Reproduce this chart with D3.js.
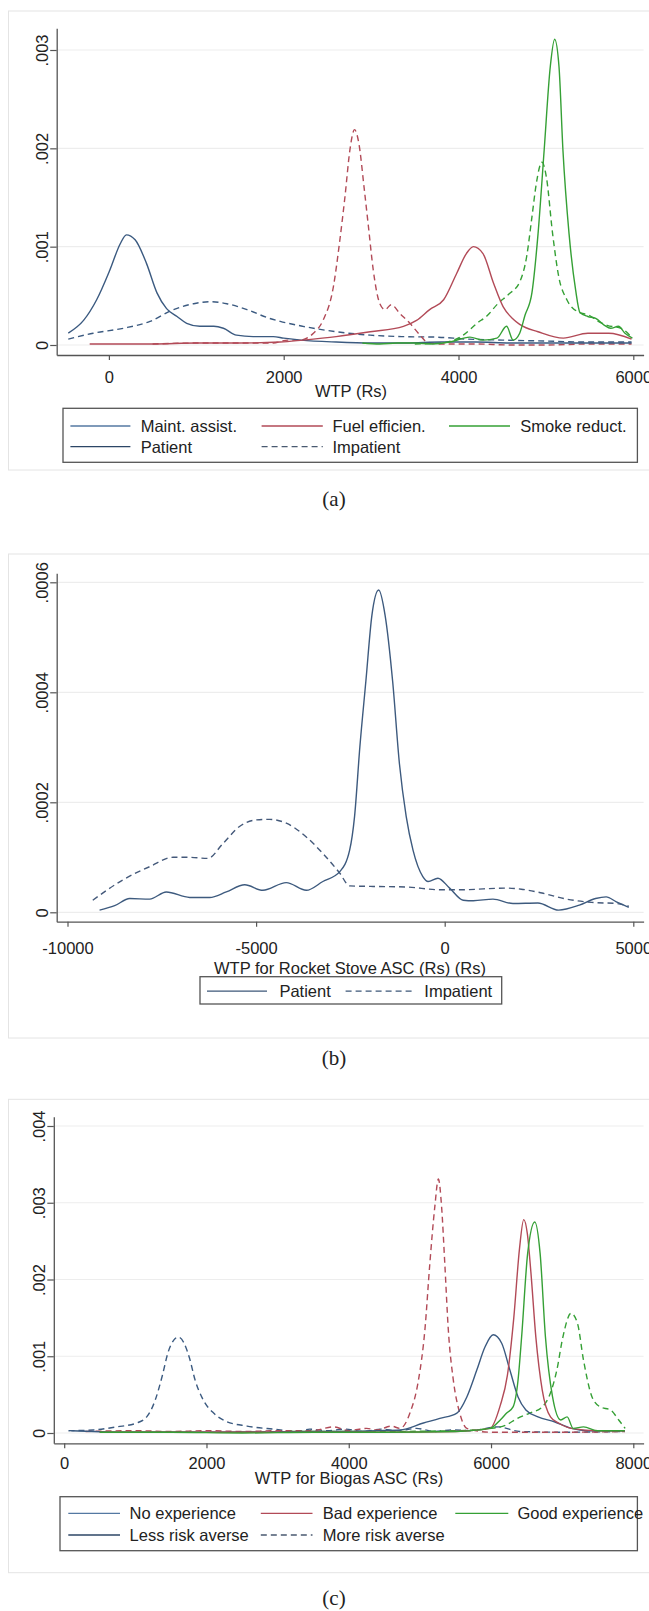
<!DOCTYPE html>
<html>
<head>
<meta charset="utf-8">
<script src="https://cdnjs.cloudflare.com/ajax/libs/d3/7.8.5/d3.min.js"></script>
<style>
  body { margin: 0; background: #fff; }
  svg text { font-family: "Liberation Sans", Arial, sans-serif; fill: #222; }
</style>
</head>
<body>
<div id="chart"></div>
<script>
// ---------- data: panel (a), WTP by attribute ----------
let ticksXA = [0, 2000, 4000, 6000];
let ticksYA = [0, 0.001, 0.002, 0.003];
let legendA = ["Maint. assist.", "Fuel efficien.", "Smoke reduct.", "Patient", "Impatient"];

let maintPatient = [[-465,0.00012],[-290,0.00025],[-140,0.00046],[10,0.00076],[130,0.00103],[200,0.00112],[300,0.00107],[430,0.00083],[550,0.00053],[660,0.00037],[780,0.00029],[890,0.00022],[1040,0.00019],[1200,0.00019],[1310,0.00017],[1460,0.0001],[1650,0.000085],[1880,0.000085],[2000,0.00007],[2200,0.00005],[2600,0.00003],[3000,0.00002],[3400,0.00002],[3800,0.00003],[4200,0.00003],[4600,0.00002],[5000,0.00002],[5500,0.00002],[5980,0.00002]];
let maintImpatient = [[-465,0.00006],[-180,0.00012],[165,0.00017],[470,0.00024],[740,0.00036],[970,0.00042],[1160,0.00044],[1350,0.00042],[1580,0.00036],[1840,0.00027],[1960,0.00024],[2220,0.00019],[2600,0.000135],[2990,0.0001],[3370,0.000085],[3750,0.00008],[4100,0.00006],[4500,0.00005],[5000,0.00004],[5500,0.00003],[5980,0.00003]];
let fuelPatient = [[-220,0.00001],[200,0.00001],[500,0.00001],[1000,0.00002],[1500,0.00002],[1960,0.00003],[2220,0.00005],[2600,0.000085],[2990,0.000135],[3370,0.00019],[3520,0.00025],[3670,0.00036],[3830,0.00046],[3980,0.00073],[4090,0.00093],[4170,0.001],[4280,0.00093],[4400,0.00063],[4510,0.00039],[4630,0.00026],[4700,0.00021],[4910,0.000135],[5200,0.00007],[5480,0.00012],[5720,0.00012],[5980,0.00006]];
let fuelImpatient = [[500,0.00001],[1000,0.00002],[1500,0.00002],[1880,0.00002],[2050,0.00005],[2190,0.00005],[2340,0.00012],[2450,0.00025],[2570,0.0006],[2640,0.00105],[2700,0.0015],[2760,0.002],[2810,0.00219],[2860,0.00205],[2920,0.0016],[2970,0.0012],[3025,0.00076],[3100,0.00042],[3160,0.00036],[3230,0.00041],[3330,0.00032],[3445,0.00022],[3560,0.0001],[3640,0.00003],[3800,0.00001],[4200,0.00001],[4600,0],[5000,0],[5500,0.00001],[5980,0.00001]];
let smokePatient = [[2900,0.00002],[3100,0.00001],[3300,0.00002],[3500,0.00002],[3700,0.00001],[3900,0.00003],[4130,0.00008],[4280,0.00005],[4440,0.00007],[4550,0.00019],[4625,0.00005],[4700,0.00012],[4760,0.0003],[4840,0.00053],[4910,0.00113],[4980,0.00198],[5050,0.00283],[5100,0.00311],[5150,0.00283],[5195,0.00198],[5265,0.00113],[5340,0.00056],[5390,0.00033],[5480,0.00029],[5570,0.00027],[5670,0.0002],[5740,0.00017],[5830,0.00019],[5905,0.00012],[5990,0.00007]];
let smokeImpatient = [[3500,0.00001],[3800,0.00002],[4055,0.0001],[4210,0.00022],[4330,0.0003],[4450,0.00042],[4580,0.00052],[4700,0.00064],[4780,0.0009],[4840,0.0013],[4890,0.00164],[4955,0.00186],[5005,0.00171],[5077,0.00113],[5148,0.00069],[5240,0.00046],[5360,0.00034],[5500,0.0003],[5600,0.00024],[5700,0.0002],[5860,0.00017],[5990,0.00007]];

// ---------- data: panel (b), rocket stove ASC ----------
let ticksXB = [-10000, -5000, 0, 5000];
let ticksYB = [0, 0.0002, 0.0004, 0.0006];
let legendB = ["Patient", "Impatient"];

let rocketPatient = [[-9150,0.000004],[-8750,0.000012],[-8350,0.000025],[-7820,0.000024],[-7380,0.000037],[-6760,0.000027],[-6230,0.000027],[-5790,0.000037],[-5300,0.00005],[-4820,0.00004],[-4200,0.000054],[-3670,0.00004],[-3230,0.000056],[-2780,0.000074],[-2520,0.000113],[-2390,0.000174],[-2250,0.0003],[-2090,0.00042],[-1930,0.00054],[-1750,0.000586],[-1580,0.00054],[-1380,0.00042],[-1200,0.00027],[-1020,0.000174],[-840,0.000113],[-580,0.000065],[-440,0.000056],[-180,0.000062],[130,0.000044],[490,0.000022],[760,0.000021],[1280,0.000024],[1810,0.000016],[2470,0.000017],[3020,0.000004],[3570,0.000013],[4000,0.000025],[4280,0.000028],[4550,0.000019],[4880,0.000009]];
let rocketImpatient = [[-9330,0.000022],[-8530,0.000059],[-7820,0.000083],[-7200,0.0001],[-6760,0.0001],[-6280,0.000098],[-5880,0.000125],[-5440,0.000156],[-4990,0.000168],[-4640,0.000169],[-4200,0.000162],[-3670,0.000137],[-3230,0.000107],[-2780,0.000071],[-2520,0.000048],[-1900,0.000047],[-1020,0.000046],[-130,0.000041],[400,0.000041],[1630,0.000044],[2030,0.000042],[2580,0.000035],[3230,0.000024],[3900,0.000018],[4550,0.000016],[4880,0.000011]];

// ---------- data: panel (c), biogas ASC ----------
let ticksXC = [0, 2000, 4000, 6000, 8000];
let ticksYC = [0, 0.001, 0.002, 0.003, 0.004];
let legendC = ["No experience", "Bad experience", "Good experience", "Less risk averse", "More risk averse"];

let noExpLess = [[100,0.00003],[400,0.00002],[800,0.00001],[1500,0.00001],[2500,0.00001],[3500,0.00002],[4000,0.00002],[4400,0.00003],[4720,0.00004],[5050,0.00013],[5280,0.00019],[5520,0.00026],[5660,0.00047],[5800,0.00082],[5915,0.00112],[6030,0.00128],[6150,0.00117],[6265,0.00082],[6380,0.00047],[6490,0.0003],[6660,0.00021],[6890,0.000147],[7130,0.00006],[7360,0.00003],[7880,0.00003]];
let noExpMore = [[60,0.00003],[410,0.00004],[740,0.00008],[1020,0.00013],[1160,0.00021],[1280,0.00043],[1380,0.00075],[1460,0.00105],[1540,0.00121],[1605,0.00125],[1680,0.00118],[1760,0.00098],[1840,0.00069],[1955,0.00043],[2100,0.00026],[2280,0.00015],[2570,0.00009],[2940,0.00005],[3300,0.00002],[3450,0.00005],[3700,0.00003],[3950,0.00005],[4200,0.00002],[4450,0.00005],[4700,0.00003],[4950,0.00006],[5200,0.00002],[5450,0.00004],[5700,0.00003],[6100,0.00008],[6400,0.00002],[7000,0.00001],[7880,0.00002]];
let badLess = [[500,0.00001],[1500,0.00001],[2500,0.00001],[3500,0.00001],[4500,0.00001],[5500,0.00002],[5985,0.00006],[6130,0.00036],[6230,0.00075],[6320,0.0015],[6400,0.0024],[6460,0.00278],[6510,0.0026],[6560,0.0021],[6630,0.00125],[6720,0.00056],[6836,0.00021],[6950,0.00013],[7130,0.00006],[7500,0.00003],[7880,0.00003]];
let badMore = [[300,0.00002],[1000,0.00003],[1500,0.00002],[2000,0.00003],[2500,0.00002],[3000,0.00003],[3500,0.00003],[3780,0.00008],[4000,0.00003],[4250,0.00006],[4400,0.00004],[4600,0.00009],[4720,0.00006],[4860,0.00026],[4980,0.00069],[5070,0.00134],[5140,0.00221],[5210,0.00295],[5260,0.00331],[5305,0.00295],[5350,0.00221],[5400,0.00134],[5470,0.00069],[5560,0.00026],[5660,0.00006],[6000,0.00001],[6300,0.00001],[7000,0.00001],[7880,0.00002]];
let goodLess = [[500,0.00001],[1500,0.00001],[2500,0],[3500,0.00001],[4500,0.00001],[5500,0.00002],[5985,0.00006],[6130,0.00017],[6220,0.00026],[6310,0.00034],[6380,0.00069],[6430,0.00125],[6515,0.00234],[6615,0.00275],[6690,0.00234],[6765,0.00125],[6865,0.00047],[6980,0.00017],[7070,0.00021],[7155,0.00006],[7300,0.00008],[7500,0.00003],[7880,0.00003]];
let goodMore = [[500,0.00001],[2000,0.00001],[3500,0.00002],[4500,0.00002],[5500,0.00003],[6000,0.00006],[6200,0.0001],[6370,0.00019],[6545,0.00026],[6720,0.00034],[6835,0.00052],[6925,0.00082],[7010,0.00125],[7125,0.00156],[7215,0.00143],[7300,0.00095],[7420,0.00047],[7535,0.00034],[7680,0.0003],[7795,0.00017],[7885,0.00006]];

// ---------- drawing ----------
let w = 649, h = 1611;
let blue = "#3b5a80", red = "#b24a57", green = "#35a035";
let blueKey = "#5478a2", navyKey = "#2c4666", dashKey = "#4a5a70";

let svg = d3.select("#chart").append("svg")
  .attr("width", w)
  .attr("height", h);

let fmtY = (dec) => (d => d === 0 ? "0" : d3.format("." + dec + "f")(d).replace(/^0/, ""));

function drawPanel(p) {
  let g = svg.append("g");

  // light outer frame (graph region)
  g.append("rect")
    .attr("x", 8.5).attr("y", p.frameTop)
    .attr("width", 700).attr("height", p.frameBottom - p.frameTop)
    .attr("fill", "none").attr("stroke", "#e4e4e4");

  let x = d3.scaleLinear().domain(p.xAnchor).range(p.xAnchorPx);
  x.domain([x.invert(p.left), x.invert(p.right)]).range([p.left, p.right]);
  let y = d3.scaleLinear().domain(p.yAnchor).range(p.yAnchorPx);
  y.domain([y.invert(p.bottom), y.invert(p.top)]).range([p.bottom, p.top]);

  g.selectAll("line.grid").data(p.yTicks).join("line")
    .attr("class", "grid")
    .attr("x1", p.left).attr("x2", p.right)
    .attr("y1", d => y(d)).attr("y2", d => y(d))
    .attr("stroke", "#ededed").attr("stroke-width", 1.2);

  let line = d3.line()
    .x(d => x(d[0]))
    .y(d => y(d[1]))
    .curve(d3.curveMonotoneX);

  p.series.forEach(s => {
    g.append("path")
      .attr("d", line(s.data))
      .attr("fill", "none")
      .attr("stroke", s.color)
      .attr("stroke-width", 1.4)
      .attr("stroke-dasharray", s.dash ? "6,4" : null);
  });

  let xAxis = g.append("g")
    .attr("transform", `translate(0,${p.bottom})`)
    .call(d3.axisBottom(x).tickValues(p.xTicks).tickFormat(d => String(d))
      .tickSize(5).tickSizeOuter(0).tickPadding(p.xPad));

  let yAxis = g.append("g")
    .attr("transform", `translate(${p.left},0)`)
    .call(d3.axisLeft(y).tickValues(p.yTicks).tickFormat(fmtY(p.yDec))
      .tickSize(6.5).tickSizeOuter(0));

  [xAxis, yAxis].forEach(a => {
    a.attr("font-family", null).attr("font-size", null);
    a.select(".domain").attr("stroke", "#555").attr("stroke-width", 1.3);
    a.selectAll(".tick line").attr("stroke", "#555").attr("stroke-width", 1.2);
    a.selectAll(".tick text").style("font-size", "16.5px").attr("fill", "#222");
  });

  yAxis.selectAll(".tick text")
    .attr("x", 0).attr("dy", 0)
    .attr("text-anchor", "middle")
    .attr("transform", "translate(-9,0) rotate(-90)");

  g.append("text")
    .attr("x", p.titleX).attr("y", p.bottom + p.titleOff + 6)
    .attr("text-anchor", "middle")
    .style("font-size", "16.5px")
    .text(p.title);

  // legend
  let L = p.legend;
  g.append("rect")
    .attr("x", L.x0).attr("y", L.y0)
    .attr("width", L.x1 - L.x0).attr("height", L.y1 - L.y0)
    .attr("fill", "#fff").attr("stroke", "#555").attr("stroke-width", 1.3);
  L.items.forEach((it, i) => {
    g.append("line")
      .attr("x1", it.lx[0]).attr("x2", it.lx[1])
      .attr("y1", it.ly).attr("y2", it.ly)
      .attr("stroke", it.color).attr("stroke-width", 1.3)
      .attr("stroke-dasharray", it.dash ? "6,4" : null);
    g.append("text")
      .attr("x", it.tx).attr("y", it.ly + 6)
      .style("font-size", "16.5px")
      .text(L.labels[i]);
  });

  svg.append("text")
    .attr("x", 334).attr("y", p.captionY + 7)
    .attr("text-anchor", "middle")
    .style("font-family", "'Liberation Serif', 'DejaVu Serif', serif")
    .style("font-size", "21px")
    .text(p.caption);
}

drawPanel({
  frameTop: 11, frameBottom: 470,
  left: 56.7, right: 643.6, top: 28.3, bottom: 355,
  xAnchor: [0, 6000], xAnchorPx: [108.9, 633.3],
  yAnchor: [0, 0.003], yAnchorPx: [345, 50],
  xTicks: ticksXA, yTicks: ticksYA, yDec: 3, xPad: 11,
  title: "WTP (Rs)", titleX: 351, titleOff: 35.7,
  series: [
    { data: maintImpatient, color: blue, dash: true },
    { data: fuelImpatient, color: red, dash: true },
    { data: smokeImpatient, color: green, dash: true },
    { data: maintPatient, color: blue },
    { data: fuelPatient, color: red },
    { data: smokePatient, color: green }
  ],
  legend: {
    x0: 63, y0: 408.3, x1: 637.4, y1: 462.3, labels: legendA,
    items: [
      { lx: [70.4, 130.4], ly: 426, tx: 140.7, color: blueKey },
      { lx: [261.6, 322.8], ly: 426, tx: 332.4, color: red },
      { lx: [449, 510], ly: 426, tx: 520.3, color: green },
      { lx: [70.4, 130.4], ly: 446.7, tx: 140.7, color: navyKey },
      { lx: [261.6, 322.8], ly: 446.7, tx: 332.4, color: dashKey, dash: true }
    ]
  },
  caption: "(a)", captionY: 499
});

drawPanel({
  frameTop: 554, frameBottom: 1038,
  left: 56.7, right: 643.6, top: 573.3, bottom: 921.7,
  xAnchor: [-10000, 5000], xAnchorPx: [67.5, 633.3],
  yAnchor: [0, 0.0006], yAnchorPx: [912.3, 582.3],
  xTicks: ticksXB, yTicks: ticksYB, yDec: 4, xPad: 16,
  title: "WTP for Rocket Stove ASC (Rs) (Rs)", titleX: 350, titleOff: 46,
  series: [
    { data: rocketImpatient, color: "#44597a", dash: true },
    { data: rocketPatient, color: "#3d5a7e" }
  ],
  legend: {
    x0: 200, y0: 976.7, x1: 501.7, y1: 1004, labels: legendB,
    items: [
      { lx: [207, 267], ly: 991.2, tx: 279.4, color: "#3d5778" },
      { lx: [345.6, 414], ly: 991.2, tx: 424.3, color: "#3d5778", dash: true }
    ]
  },
  caption: "(b)", captionY: 1058
});

drawPanel({
  frameTop: 1099.3, frameBottom: 1572.7,
  left: 53.8, right: 643.6, top: 1116.7, bottom: 1443.3,
  xAnchor: [0, 8000], xAnchorPx: [64.2, 633.3],
  yAnchor: [0, 0.004], yAnchorPx: [1433, 1126],
  xTicks: ticksXC, yTicks: ticksYC, yDec: 3, xPad: 8.6,
  title: "WTP for Biogas ASC (Rs)", titleX: 349, titleOff: 35,
  series: [
    { data: noExpMore, color: blue, dash: true },
    { data: badMore, color: red, dash: true },
    { data: goodMore, color: green, dash: true },
    { data: noExpLess, color: blue },
    { data: badLess, color: red },
    { data: goodLess, color: green }
  ],
  legend: {
    x0: 60, y0: 1496.7, x1: 637.4, y1: 1550.7, labels: legendC,
    items: [
      { lx: [68.3, 120], ly: 1513.3, tx: 129.6, color: blueKey },
      { lx: [260.8, 312.5], ly: 1513.3, tx: 322.8, color: red },
      { lx: [455.3, 508.3], ly: 1513.3, tx: 517.4, color: green },
      { lx: [68.3, 120], ly: 1535, tx: 129.6, color: navyKey },
      { lx: [260.8, 312.5], ly: 1535, tx: 322.8, color: dashKey, dash: true }
    ]
  },
  caption: "(c)", captionY: 1598
});
</script>
</body>
</html>
